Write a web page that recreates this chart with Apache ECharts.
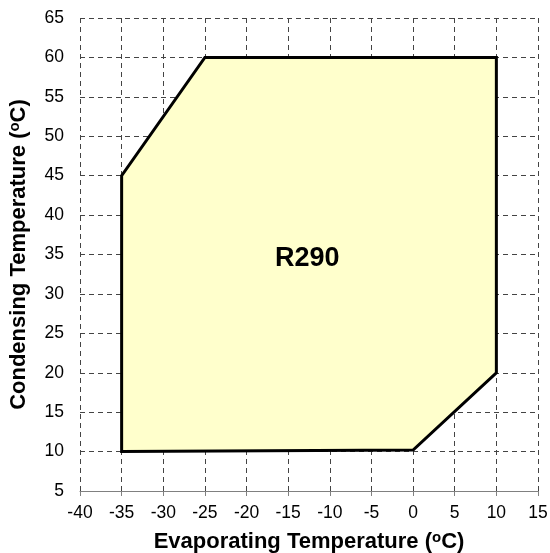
<!DOCTYPE html>
<html><head><meta charset="utf-8">
<script src="https://cdn.jsdelivr.net/npm/echarts@6/dist/echarts.min.js"></script>
<style>html,body{margin:0;padding:0;background:#fff}#c{width:550px;height:553px}</style>
</head><body><div id="c"></div>
<script>
var xTicks = [-40,-35,-30,-25,-20,-15,-10,-5,0,5,10,15];
var yTicks = [5,10,15,20,25,30,35,40,45,50,55,60,65];
var envelopeEvap = [-35,-35,-25,10,10,0];
var envelopeCond = [10,45,60,60,20,10.2];
var labelText = 'R290';
var labelPos = [-12.7, 34.5];

var pts = envelopeEvap.map(function(x,i){return [x, envelopeCond[i]];});
var chart = echarts.init(document.getElementById('c'));
var font = 'Liberation Sans, Arial, sans-serif';
chart.setOption({
  animation:false,
  grid:{left:80,right:12,top:18,bottom:62,containLabel:false,outerBoundsMode:'none'},
  xAxis:{type:'value',min:xTicks[0],max:xTicks[xTicks.length-1],interval:5,
    name:'{b|Evaporating Temperature (}{s|o}{b|C)}',nameLocation:'middle',nameGap:39,
    nameTextStyle:{rich:{b:{fontFamily:font,fontWeight:'bold',fontSize:22,color:'#000'},s:{fontFamily:font,fontWeight:'bold',fontSize:15,color:'#000',padding:[0,0,8,0]}}},
    axisLine:{show:true,lineStyle:{color:'#808080',width:1}},
    axisTick:{show:true,length:5,lineStyle:{color:'#808080'}},
    axisLabel:{fontFamily:font,fontSize:17.5,color:'#000',margin:13},
    splitLine:{show:true,lineStyle:{color:'#444',type:[5,4],width:1}}},
  yAxis:{type:'value',min:yTicks[0],max:yTicks[yTicks.length-1],interval:5,
    name:'{b|Condensing Temperature (}{s|o}{b|C)}',nameLocation:'middle',nameGap:50,
    nameTextStyle:{rich:{b:{fontFamily:font,fontWeight:'bold',fontSize:22,color:'#000'},s:{fontFamily:font,fontWeight:'bold',fontSize:15,color:'#000',padding:[0,0,8,0]}}},
    axisLine:{show:false},axisTick:{show:false},
    axisLabel:{fontFamily:font,fontSize:17.5,color:'#000',margin:16},
    splitLine:{show:true,lineStyle:{color:'#444',type:[5,4],width:1}}},
  series:[{
    type:'custom',
    data:[0],
    renderItem:function(params,api){
      var p = pts.map(function(d){return api.coord(d);});
      var t = api.coord(labelPos);
      return {type:'group',children:[
        {type:'polygon',shape:{points:p},style:{fill:'#FFFFCC',stroke:'#000',lineWidth:3,lineJoin:'miter'}},
        {type:'text',x:t[0],y:t[1],style:{text:labelText,fontFamily:font,fontWeight:'bold',fontSize:27,fill:'#000',align:'center',verticalAlign:'middle'}}
      ]};
    }
  }]
});
</script></body></html>
